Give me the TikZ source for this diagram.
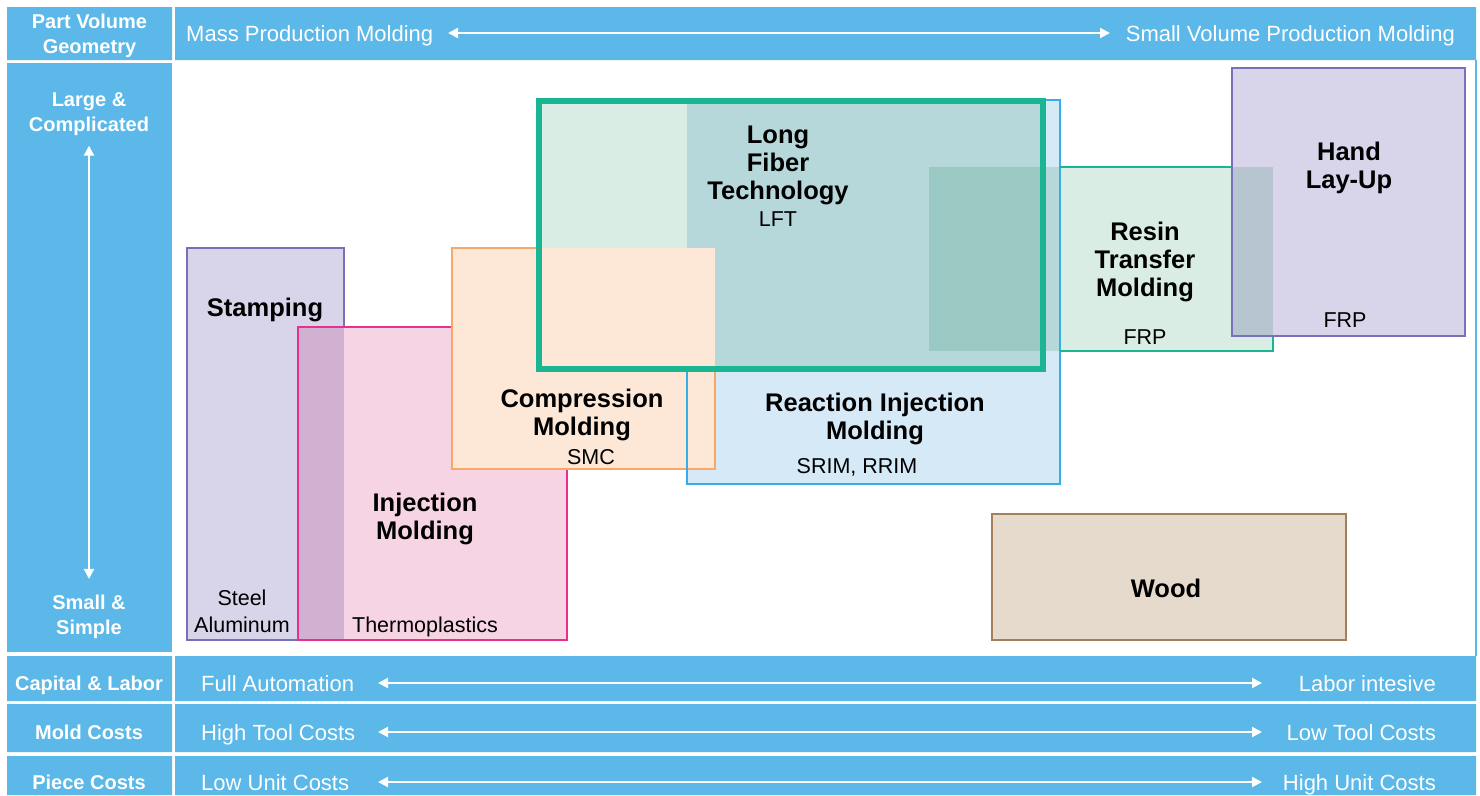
\documentclass[tikz,border=0pt]{standalone}
\usepackage{fontspec}
\setmainfont{Liberation Sans}
\usetikzlibrary{arrows.meta}

\definecolor{stripblue}{HTML}{5BB8E8}
\definecolor{lavfill}{HTML}{D8D5EA}
\definecolor{lavline}{HTML}{7671B8}
\definecolor{pinkfill}{HTML}{F7D4E4}
\definecolor{pinkline}{HTML}{E8308E}
\definecolor{orfill}{HTML}{FDE8D8}
\definecolor{orline}{HTML}{F8A866}
\definecolor{rimfill}{HTML}{D6E9F6}
\definecolor{rimline}{HTML}{36AEE5}
\definecolor{lftfill}{HTML}{D9EDE4}
\definecolor{lftline}{HTML}{1AB593}
\definecolor{woodfill}{HTML}{E5DACB}
\definecolor{woodline}{HTML}{A57E5C}

\tikzset{
  strip/.style={fill=stripblue},
  striptext/.style={text=white, font=\fontsize{22}{26}\selectfont, inner sep=0pt},
  headtext/.style={text=white, font=\bfseries\fontsize{20}{25}\selectfont, align=center, inner sep=0pt},
  title/.style={font=\bfseries\fontsize{25.5}{28}\selectfont, align=center, inner sep=0pt},
  sub/.style={font=\fontsize{21.5}{27}\selectfont, align=center, inner sep=0pt},
  whitearrow/.style={white, line width=2pt, {Triangle[length=10pt,width=10pt]}-{Triangle[length=10pt,width=10pt]}},
  edge/.style={line width=2pt}
}

\begin{document}
\begin{tikzpicture}[x=1pt,y=-1pt]
        \useasboundingbox (0,0) rectangle (1480,795);
        % header
        \fill[strip] (7,7) rectangle (172,60) (175,7) rectangle (1476,60);
        \node[headtext] (geom) at (89.5,36) {Part Volume\\Geometry};
        \node[striptext, anchor=base west] (mass) at (186,41) {Mass Production Molding};
        \node[striptext, anchor=base east] (smallvol) at (1455,41) {Small Volume Production Molding};
        \coordinate (hl) at (448,33);
        \coordinate (hr) at (1110,33);
        \draw[whitearrow] (hl) -- (hr);
        % left column
        \fill[strip] (7,63) rectangle (172,652);
        \draw[stripblue, line width=1.5pt] (1476,60) -- (1476,656);
        \node[headtext] (large) at (89,114) {Large \&\\Complicated};
        \node[headtext] (simple) at (89,617) {Small \&\\Simple};
        \draw[whitearrow] ([yshift=-10pt]large.south) -- ([yshift=16pt]simple.north);
        % bottom rows
        \foreach \t/\b/\y/\lab/\lt/\rt [count=\i] in {656/701/683/Capital \& Labor/Full Automation/Labor intesive,
            704/752/732/Mold Costs/High Tool Costs/Low Tool Costs,
            756/795/782/Piece Costs/Low Unit Costs/High Unit Costs}{
          \fill[strip] (7,\t) rectangle (172,\b) (175,\t) rectangle (1476,\b);
          \node[headtext, anchor=base] (row\i) at (89,\y+7) {\lab};
          \node[striptext, anchor=base west] (lt\i) at (201,\y+8) {\lt};
          \node[striptext, anchor=base east] (rt\i) at (1436,\y+8) {\rt};
          \coordinate (al\i) at (378,\y);
          \coordinate (ar\i) at (1262,\y);
          \draw[whitearrow] (al\i) -- (ar\i);
        }
        % process fills
        \begin{scope}[blend mode=multiply]
        \fill[lavfill] (187,248) rectangle (344,640);
        \fill[pinkfill] (298,327) rectangle (567,640);
        \fill[rimfill] (687,100) rectangle (1060,484);
        \fill[lftfill] (539,100.5) rectangle (1043,369);
        \fill[lftfill] (929,167) rectangle (1273,351);
        \fill[lavfill] (1232,68) rectangle (1465,336);
        \end{scope}
        \fill[orfill] (452,248) rectangle (715,469);
        % process outlines
        \draw[edge, lavline] (298,640) -- (187,640) -- (187,248) -- (344,248) -- (344,327);
        \draw[edge, pinkline] (452,327) -- (298,327) -- (298,640) -- (567,640) -- (567,469);
        \draw[edge, orline] (539,248) -- (452,248) -- (452,469) -- (715,469) -- (715,369);
        \draw[edge, rimline] (1043,100) -- (1060,100) -- (1060,484) -- (687,484) -- (687,369);
        \draw[edge, lftline] (1232,167) -- (1060,167) (1060,351) -- (1273,351) -- (1273,336);
        \draw[edge, lavline] (1232,68) rectangle (1465,336);
        \draw[lftline, line width=6pt] (539,100.5) rectangle (1043,369);
        \draw[edge, woodline, fill=woodfill] (992,514) rectangle (1346,640);
        % labels
        \node[title] (stamp) at (265,310) {Stamping};
        \node[sub] (steel) at (242,611) {Steel\\Aluminum};
        \node[title] (inj) at (425,519) {Injection\\Molding};
        \node[sub] (thermo) at (425,627) {Thermoplastics};
        \node[title] (comp) at (582,415) {Compression\\Molding};
        \node[sub] (smc) at (591,457) {SMC};
        \node[title] (lft) at (778,165) {Long\\Fiber\\Technology};
        \node[sub] (lftsub) at (778,219) {LFT};
        \node[title] (rim) at (875,419) {Reaction Injection\\Molding};
        \node[sub] (rimsub) at (857,467) {SRIM, RRIM};
        \node[title] (rtm) at (1145,262) {Resin\\Transfer\\Molding};
        \node[sub] (rtmsub) at (1145,337) {FRP};
        \node[title] (hand) at (1349,168) {Hand\\Lay-Up};
        \node[sub] (handsub) at (1345,320) {FRP};
        \node[title] (wood) at (1166,588) {Wood};
\end{tikzpicture}
\end{document}
